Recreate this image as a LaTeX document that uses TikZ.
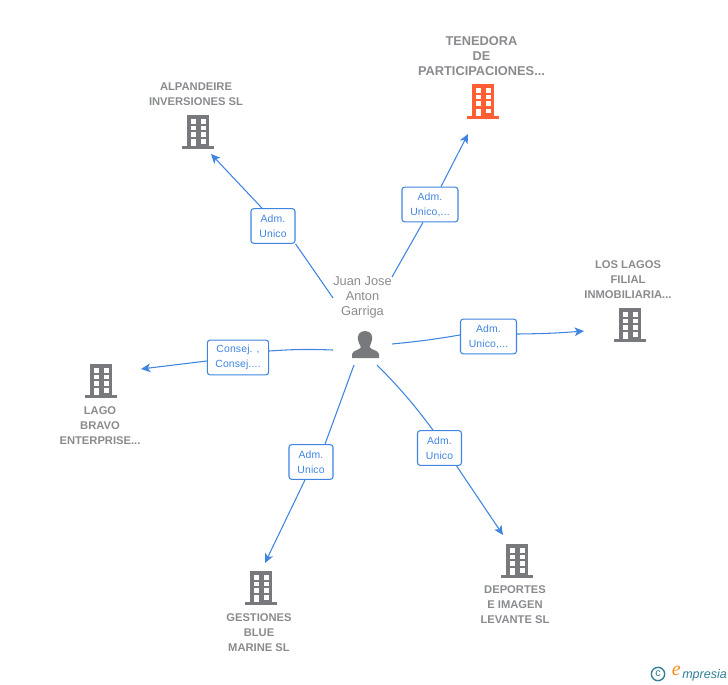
\documentclass[tikz,border=0pt]{standalone}
\usepackage{fontspec}
\setmainfont{Liberation Sans}
\newfontfamily\logoserif{Liberation Serif}
\usetikzlibrary{arrows.meta,calc,backgrounds}
\definecolor{linkblue}{HTML}{3F85E0}
\definecolor{labelgray}{HTML}{898B8E}
\definecolor{icongray}{HTML}{77797C}
\definecolor{iconorange}{HTML}{FF5F33}
\definecolor{logoteal}{HTML}{2F7E96}
\definecolor{logoorange}{HTML}{F28C1E}
\tikzset{
  x=0.75pt,y=-0.75pt,
  company/.style={font=\fontsize{8.4pt}{11.25pt}\selectfont\bfseries,text=labelgray,align=center,inner sep=0pt},
  maincompany/.style={company,font=\fontsize{9.6pt}{11.25pt}\selectfont\bfseries},
  person/.style={font=\fontsize{9.6pt}{11.25pt}\selectfont,text=labelgray,align=center,inner sep=0pt},
  rolebox/.style={draw=linkblue,fill=white,rounded corners=2pt,line width=0.8pt,text=linkblue,
    font=\fontsize{7.8pt}{11.25pt}\selectfont\addfontfeature{LetterSpace=1.5},align=center,inner sep=0pt,minimum height=26pt,
    execute at begin node={\rule{0pt}{8pt}}},
  link/.style={draw=linkblue,line width=0.8pt},
  linkarrow/.style={link,-{Stealth[length=7pt,width=6.5pt,inset=1.8pt]}},
  pics/building/.style={code={
    \fill[#1] (-11,-17) rectangle (11,14);
    \fill[#1] (-16,14) rectangle (16,17);
    \foreach \yy in {-13,-6.5,0}{
      \fill[white] (-7,\yy) rectangle (-2,\yy+4.5);
      \fill[white] (3,\yy) rectangle (8,\yy+4.5);
    }
    \fill[white] (-7,7) rectangle (-2,14);
    \fill[white] (3,7) rectangle (8,11.5);
  }},
}
\begin{document}
\begin{tikzpicture}
\useasboundingbox (0,0) rectangle (728,685);
% free ends
\coordinate (s1) at (392,277); \coordinate (t1) at (468,134);
\coordinate (s2) at (333,298); \coordinate (t2) at (211,154);
\coordinate (s3) at (392,344); \coordinate (t3) at (584,331);
\coordinate (s4) at (333,350); \coordinate (t4) at (141,369);
\coordinate (s5) at (354,365); \coordinate (t5) at (265,563);
\coordinate (s6) at (377,365); \coordinate (t6) at (503,535);
% role boxes
\node[rolebox,minimum width=42pt] (r1) at (430,204.5) {Adm.\\Unico,...};
\node[rolebox,minimum width=33pt] (r2) at (273,226) {Adm.\\Unico};
\node[rolebox,minimum width=42pt] (r3) at (488.5,336.5) {Adm.\\Unico,...};
\node[rolebox,minimum width=46pt] (r4) at (238,357.5) {Consej. ,\\Consej....};
\node[rolebox,minimum width=33pt] (r5) at (311,462) {Adm.\\Unico};
\node[rolebox,minimum width=33pt] (r6) at (439.5,448) {Adm.\\Unico};
% connectors
\begin{scope}[on background layer]
\draw[link] (s1) -- ($(r1.south)+(-7,0)$);
\draw[linkarrow] ($(r1.north)+(11,0)$) -- (t1);
\draw[link] (s2) -- (r2.south east);
\draw[linkarrow] ($(r2.north)+(-11,0)$) -- (t2);
\draw[link] (s3) to[bend left=-2] ($(r3.west)+(0,-1.5)$);
\draw[linkarrow] ($(r3.east)+(0,-2.5)$) to[bend left=-2] (t3);
\draw[link] (s4) to[bend left=-3] ($(r4.east)+(0,-6.5)$);
\draw[linkarrow] ($(r4.west)+(0,3.5)$) -- (t4);
\draw[link] (s5) -- ($(r5.north)+(14,0)$);
\draw[linkarrow] ($(r5.south)+(-6,0)$) -- (t5);
\draw[link] (s6) to[bend left=4] ($(r6.north)+(-6.5,0)$);
\draw[linkarrow] ($(r6.south)+(17,0)$) -- (t6);
\end{scope}
% companies
\pic at (483,101.5) {building={iconorange}};
\node[maincompany] (c1) at (481.5,56) {TENEDORA\\DE\\PARTICIPACIONES...};
\pic at (198,132) {building={icongray}};
\node[company] (c2) at (196,94) {ALPANDEIRE\\INVERSIONES SL};
\pic at (630,325) {building={icongray}};
\node[company] (c3) at (628,279.5) {LOS LAGOS\\FILIAL\\INMOBILIARIA...};
\pic at (101,381) {building={icongray}};
\node[company] (c4) at (100,425.5) {LAGO\\BRAVO\\ENTERPRISE...};
\pic at (261,588) {building={icongray}};
\node[company] (c5) at (259,632.5) {GESTIONES\\BLUE\\MARINE SL};
\pic at (517,561) {building={icongray}};
\node[company] (c6) at (515,604.5) {DEPORTES\\E IMAGEN\\LEVANTE SL};
% person
\node[person] (p) at (362.5,297.5) {Juan Jose\\Anton\\Garriga};
\fill[icongray] (365,331) .. controls (371,331) and (373,336) .. (372,340)
  .. controls (371.5,343) and (370,345) .. (369.5,347)
  .. controls (371,350) and (378,350) .. (379,354) -- (379,358) -- (352,358) -- (352,354)
  .. controls (353,350) and (360,350) .. (361,347)
  .. controls (360,345) and (358.5,343) .. (358,340)
  .. controls (357,336) and (359,331) .. (365,331) -- cycle;
% logo
\node[draw=logoteal,circle,line width=1pt,text=logoteal,inner sep=0pt,minimum size=10pt,font=\fontsize{8pt}{8pt}\selectfont] (cr) at (658,674) {c};
\node[inner sep=0pt,anchor=east,font=\logoserif\fontsize{15pt}{15pt}\selectfont\itshape,text=logoorange] (le) at (681,671) {e};
\node[inner sep=0pt,anchor=west,font=\fontsize{9.4pt}{10pt}\selectfont\itshape,text=logoteal] (lm) at (682,675) {mpresia};
\end{tikzpicture}
\end{document}
